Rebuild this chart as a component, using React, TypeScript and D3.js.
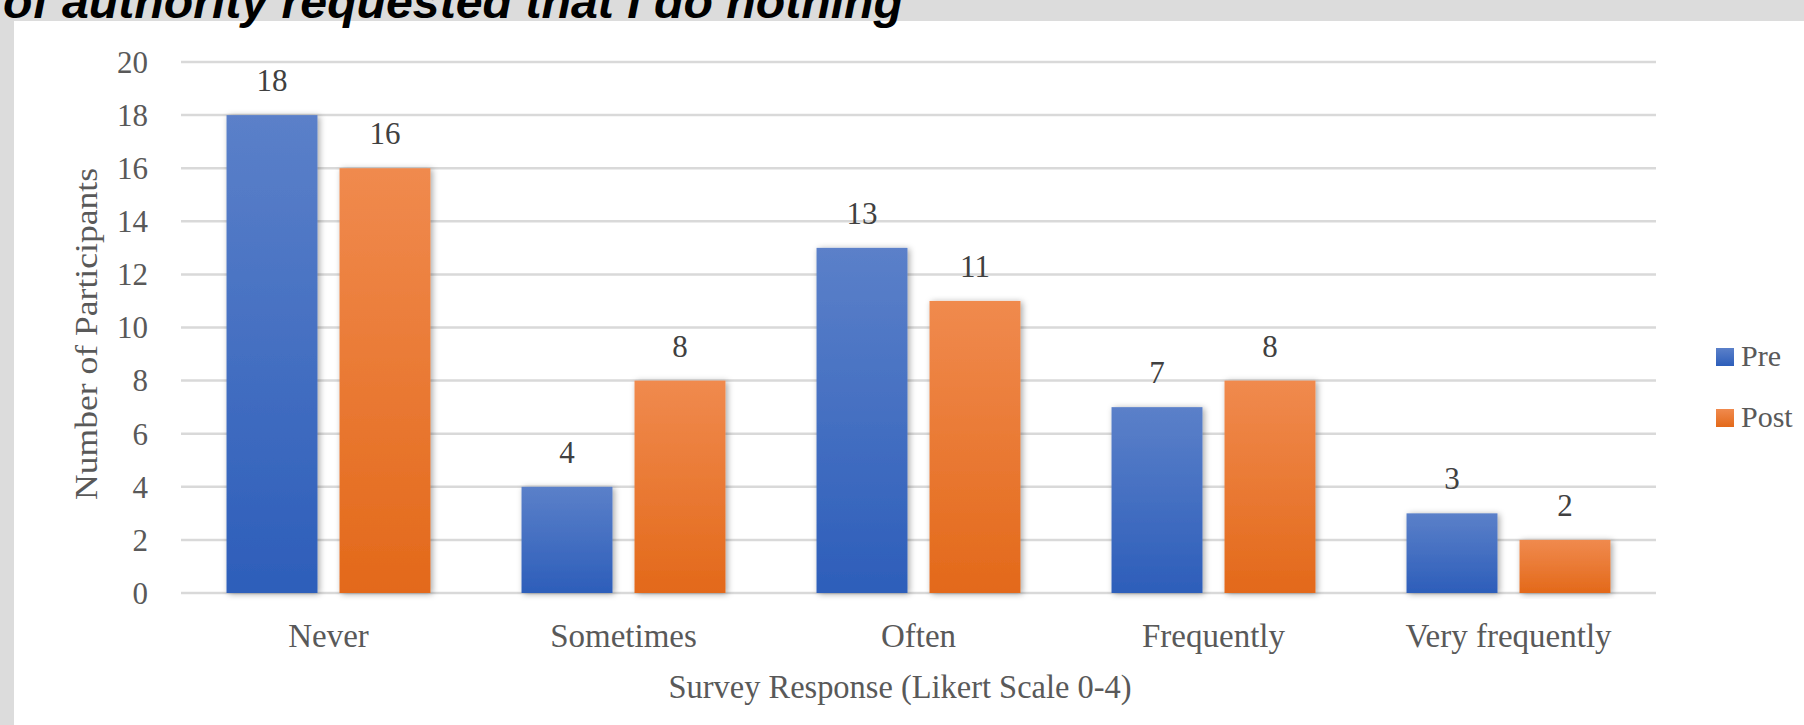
import React from 'react';
import * as d3 from 'd3';

const categories = ['Never', 'Sometimes', 'Often', 'Frequently', 'Very frequently'];
const seriesNames = ['Pre', 'Post'];
const preValues = [18, 4, 13, 7, 3];
const postValues = [16, 8, 11, 8, 2];
const yTickValues = [0, 2, 4, 6, 8, 10, 12, 14, 16, 18, 20];

const titleText = 'of authority requested that I do nothing';
const xTitle = 'Survey Response (Likert Scale 0-4)';
const yTitle = 'Number of Participants';

const W = 1804;
const H = 725;
const plot = { left: 181, right: 1656, top: 62, bottom: 593 };
const serif = '"Liberation Serif", "Times New Roman", serif';

export default function App() {
  const x = d3.scaleBand().domain(categories).range([plot.left, plot.right]);
  const inner = d3.scaleBand()
    .domain(seriesNames)
    .range([0, x.bandwidth()])
    .paddingInner(0.195)
    .paddingOuter(0.403);
  const y = d3.scaleLinear().domain([0, 20]).range([plot.bottom, plot.top]);

  const valuesBySeries = { Pre: preValues, Post: postValues };
  const fillBySeries = { Pre: 'url(#gradPre)', Post: 'url(#gradPost)' };

  return (
    <svg width={W} height={H} style={{ position: 'absolute', left: 0, top: 0 }}>
      <defs>
        <linearGradient id="gradPre" x1="0" y1="0" x2="0" y2="1">
          <stop offset="0%" stopColor="#5b80c9" />
          <stop offset="100%" stopColor="#2d5eba" />
        </linearGradient>
        <linearGradient id="gradPost" x1="0" y1="0" x2="0" y2="1">
          <stop offset="0%" stopColor="#f08a4e" />
          <stop offset="100%" stopColor="#e3691a" />
        </linearGradient>
        <filter id="shadow" x="-20%" y="-10%" width="140%" height="120%">
          <feDropShadow dx="2" dy="1" stdDeviation="3" floodColor="#000" floodOpacity="0.35" />
        </filter>
      </defs>

      {/* page background and white chart panel */}
      <rect x={0} y={0} width={W} height={H} fill="#dcdcdc" />
      <rect x={14} y={21} width={W - 14} height={H - 21} fill="#ffffff" />

      <text x={3} y={18} fontFamily='"Liberation Sans", Arial, sans-serif' fontWeight="bold"
        fontStyle="italic" fontSize={47} fill="#000" textLength={900} lengthAdjust="spacingAndGlyphs">
        {titleText}
      </text>

      {/* gridlines and y tick labels */}
      {yTickValues.map(t => (
        <g key={t}>
          <line x1={plot.left} x2={plot.right} y1={y(t)} y2={y(t)} stroke="#d9d9d9" strokeWidth={2.5} />
          <text x={148} y={y(t)} dy="0.35em" textAnchor="end" fontFamily={serif} fontSize={31} fill="#595959">
            {t}
          </text>
        </g>
      ))}

      {/* bars */}
      {categories.map((c, i) => (
        <g key={c} transform={`translate(${x(c)},0)`}>
          {seriesNames.map(s => {
            const v = valuesBySeries[s][i];
            return (
              <g key={s}>
                <rect x={inner(s)} y={y(v)} width={inner.bandwidth()} height={y(0) - y(v)}
                  fill={fillBySeries[s]} filter="url(#shadow)" />
                <text x={inner(s) + inner.bandwidth() / 2} y={y(v) - 24} textAnchor="middle"
                  fontFamily={serif} fontSize={31} fill="#404040">
                  {v}
                </text>
              </g>
            );
          })}
          <text x={x.bandwidth() / 2} y={647} textAnchor="middle" fontFamily={serif} fontSize={33} fill="#595959">
            {c}
          </text>
        </g>
      ))}

      {/* axis titles */}
      <text x={900} y={698} textAnchor="middle" fontFamily={serif} fontSize={33} fill="#595959"
        textLength={463} lengthAdjust="spacingAndGlyphs">
        {xTitle}
      </text>
      <text transform="translate(97,334) rotate(-90)" textAnchor="middle" fontFamily={serif} fontSize={31}
        fill="#595959" textLength={332} lengthAdjust="spacingAndGlyphs">
        {yTitle}
      </text>

      {/* legend */}
      {seriesNames.map((s, i) => (
        <g key={s} transform={`translate(1716,${348 + i * 61})`}>
          <rect x={0} y={0} width={18} height={18} fill={fillBySeries[s]} />
          <text x={25} y={18} fontFamily={serif} fontSize={30} fill="#595959">{s}</text>
        </g>
      ))}
    </svg>
  );
}
